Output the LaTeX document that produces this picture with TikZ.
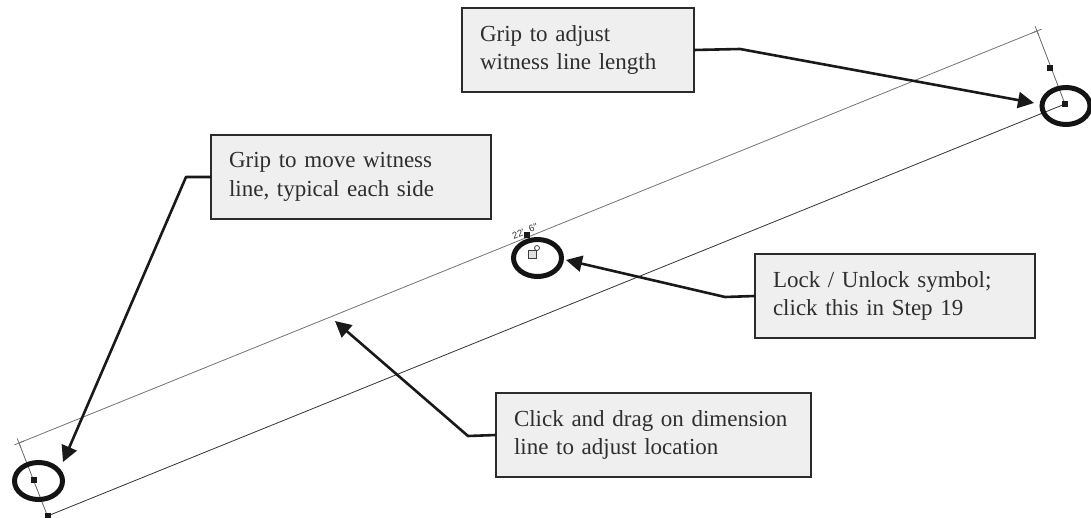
\documentclass[tikz,border=0pt]{standalone}
\usepackage{fontspec}
\setmainfont{Liberation Serif}
\newfontfamily\dimfont{Liberation Sans}
\usetikzlibrary{arrows.meta,shapes.geometric,calc}
\definecolor{boxfill}{HTML}{EFEFEF}
\definecolor{boxline}{HTML}{2B2B2B}
\definecolor{boxtext}{HTML}{2E2E2E}
\tikzset{
  callout/.style={draw=boxline,fill=boxfill,line width=1.5pt,text=boxtext,align=left,
    font=\fontsize{23}{28.5}\selectfont,inner xsep=18pt,inner ysep=0pt,minimum height=84pt,anchor=north west,outer sep=0pt},
  leader/.style={line width=2.6pt,draw=black!90,-{Triangle[length=16pt,width=16pt]},line join=round},
  ring/.style={ellipse,draw=black!92,line width=5pt,inner sep=0pt,minimum width=48pt,minimum height=37pt,outer sep=0pt},
  grip/.style={fill=black!90,inner sep=0pt,minimum size=6pt,outer sep=0pt},
  dimtop/.style={draw=black!55,line width=.8pt},
  dimbot/.style={draw=black!80,line width=.8pt},
  wit/.style={draw=black!60,line width=.8pt},
}
\begin{document}
\begin{tikzpicture}[x=1pt,y=-1pt]
\useasboundingbox (0,0) rectangle (1091,518);
% dimension geometry
\coordinate (tr) at (1037,31);
\coordinate (tl) at (19,443);
\coordinate (br) at (1065,104);
\coordinate (bl) at (47.5,516);
\draw[dimtop] (tl) -- (tr);
\draw[dimbot] (bl) -- (br);
\draw[wit] (tr) -- (br);
\draw[wit] (tl) -- (bl);
% end ticks
\draw[dimtop] ($(tr)+(4.6,-1.9)$) -- ($(tr)+(-4.6,1.9)$);
\draw[dimtop] ($(tr)+(-1.8,-4.6)$) -- ($(tr)+(1.8,4.6)$);
\draw[dimtop] ($(tl)+(4.6,-1.9)$) -- ($(tl)+(-4.6,1.9)$);
\draw[dimtop] ($(tl)+(-1.8,-4.6)$) -- ($(tl)+(1.8,4.6)$);
% grips
\node[grip] (g1) at (1050,68) {};
\node[grip] (g2) at (1065,104) {};
\node[grip] (g3) at (33.5,480) {};
\node[grip] (g4) at (47.5,516) {};
\node[grip] (g5) at (526.5,235) {};
% dimension text
\node[rotate=22,font=\dimfont\fontsize{9.5}{10}\selectfont,text=black!80,inner sep=0pt] (dimtxt) at (525,231) {22'\hspace{5.5pt}6"};
% lock symbol
\node[draw=black!75,fill=black!12,line width=.7pt,inner sep=0pt,minimum size=8pt] (lock) at (532,254) {};
\node[circle,draw=black!75,line width=.8pt,inner sep=0pt,minimum size=5pt] (shackle) at (537,248) {};
% rings
\node[ring] (e1) at (1066,106) {};
\node[ring] (e2) at (38.5,481) {};
\node[ring] (e3) at (537.5,258) {};
% callouts
\node[callout,minimum width=232pt,text width=196pt] (b1) at (462,8) {Grip to adjust\\witness line length};
\node[callout,minimum width=280pt,text width=244pt] (b2) at (211,135) {Grip to move witness\\line, typical each side};
\node[callout,minimum width=280pt,text width=244pt] (b3) at (755,254) {Lock / Unlock symbol;\\click this in Step 19};
\node[callout,minimum width=315pt,text width=279pt] (b4) at (496,393) {Click and drag on dimension\\line to adjust location};
% leader elbows and tips
\coordinate (k1) at (740,49);
\coordinate (t1) at (1034,103);
\coordinate (k2) at (186,177);
\coordinate (t2) at (63,462);
\coordinate (k3) at (725,297);
\coordinate (t3) at (566,260);
\coordinate (k4) at (468,436);
\coordinate (t4) at (335,321);
\draw[leader] (b1.east) -- (k1) -- (t1);
\draw[leader] (b2.west) -- (k2) -- (t2);
\draw[leader] (b3.west) -- (k3) -- (t3);
\draw[leader] (b4.west) -- (k4) -- (t4);
\end{tikzpicture}
\end{document}
